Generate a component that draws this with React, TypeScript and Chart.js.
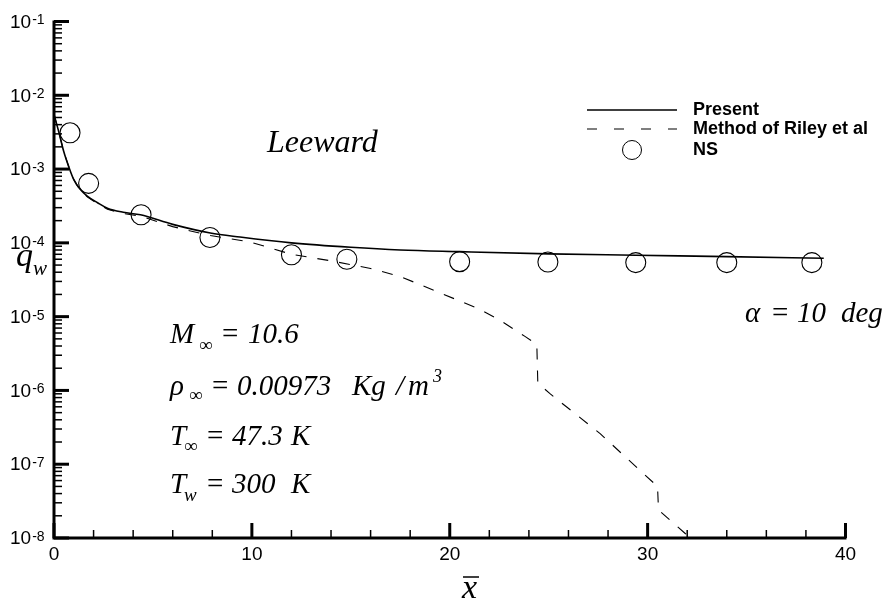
import React, { useEffect, useRef } from "react";
import { Chart, registerables } from "chart.js";
Chart.register(...registerables);

// ---- data ----
const presentX = [0, 0.25, 0.5, 0.76, 1.0, 1.3, 1.68, 2.2, 2.7, 3.5, 4.37, 6, 7.9, 9.4, 12, 15, 17.5, 20.5, 25, 29.4, 34, 38.9];
const presentY = [5.5e-3, 3.13e-3, 1.7e-3, 1.05e-3, 7.2e-4, 5.4e-4, 4.3e-4, 3.5e-4, 2.95e-4, 2.6e-4, 2.4e-4, 1.78e-4, 1.36e-4, 1.2e-4, 1.0e-4, 8.7e-5, 8.0e-5, 7.6e-5, 7.1e-5, 6.8e-5, 6.5e-5, 6.2e-5];

const rileyX = [0, 0.25, 0.5, 0.76, 1.0, 1.3, 1.68, 2.2, 2.7, 3.5, 4.37, 6, 6.9, 7.9, 9.9, 12, 14, 16, 17.5, 19.7, 21.4, 22.5, 23.8, 24.4, 24.45, 25.05, 27.6, 29.6, 30.5, 30.55, 31.9, 32.3];
const rileyY = [5.5e-3, 3.13e-3, 1.7e-3, 1.05e-3, 7.2e-4, 5.3e-4, 4.2e-4, 3.4e-4, 2.85e-4, 2.5e-4, 2.3e-4, 1.66e-4, 1.45e-4, 1.26e-4, 1.03e-4, 7.0e-5, 5.7e-5, 4.5e-5, 3.5e-5, 2.0e-5, 1.3e-5, 9.1e-6, 5.4e-6, 4.2e-6, 1.26e-6, 9.1e-7, 2.6e-7, 8.3e-8, 5.0e-8, 2.4e-8, 1.15e-8, 9e-9];

const nsX = [0.81, 1.75, 4.4, 7.88, 12.0, 14.8, 20.5, 24.96, 29.4, 34.0, 38.3];
const nsY = [3.1e-3, 6.4e-4, 2.4e-4, 1.18e-4, 6.9e-5, 6.0e-5, 5.56e-5, 5.5e-5, 5.4e-5, 5.4e-5, 5.4e-5];

const xMajorTicks = [0, 10, 20, 30, 40];
const xMinorTicks = [2, 4, 6, 8, 12, 14, 16, 18, 22, 24, 26, 28, 32, 34, 36, 38];
const yExponents = [-8, -7, -6, -5, -4, -3, -2, -1];
const yMinorMultipliers = [2, 3, 4, 5, 6, 7, 8, 9];
const legendLabels = ["Present", "Method of Riley et al", "NS"];

const SERIF = '"Liberation Serif", "Times New Roman", serif';
const SANS = '"Liberation Sans", Arial, sans-serif';

type Piece = { t: string; x: number; size: number; italic?: boolean; dy?: number };

function drawPieces(ctx: CanvasRenderingContext2D, y: number, pieces: Piece[]) {
  ctx.textAlign = "left";
  ctx.textBaseline = "alphabetic";
  for (const p of pieces) {
    ctx.font = `${p.italic ? "italic " : ""}${p.size}px ${SERIF}`;
    ctx.fillText(p.t, p.x, y + (p.dy || 0));
  }
}

const overlay = {
  id: "overlay",
  afterDraw(chart: any) {
    const ctx: CanvasRenderingContext2D = chart.ctx;
    const xs = chart.scales.x;
    const ys = chart.scales.y;
    const area = chart.chartArea;
    ctx.save();
    ctx.fillStyle = "#000";
    ctx.strokeStyle = "#000";

    // axes lines
    ctx.lineWidth = 3;
    ctx.beginPath();
    ctx.moveTo(area.left, area.top - 1);
    ctx.lineTo(area.left, area.bottom);
    ctx.lineTo(area.right + 1, area.bottom);
    ctx.stroke();

    // y ticks
    for (const e of yExponents) {
      const py = ys.getPixelForValue(Math.pow(10, e));
      ctx.lineWidth = 3;
      ctx.beginPath();
      ctx.moveTo(area.left, py);
      ctx.lineTo(area.left + 15, py);
      ctx.stroke();
      if (e < -1) {
        for (const m of yMinorMultipliers) {
          const my = ys.getPixelForValue(m * Math.pow(10, e));
          ctx.lineWidth = 1.5;
          ctx.beginPath();
          ctx.moveTo(area.left, my);
          ctx.lineTo(area.left + 8, my);
          ctx.stroke();
        }
      }
      ctx.font = `19px ${SANS}`;
      ctx.textAlign = "left";
      ctx.textBaseline = "middle";
      ctx.fillText("10", 10, py + 1);
      const w = ctx.measureText("10").width;
      ctx.font = `14px ${SANS}`;
      ctx.textBaseline = "top";
      ctx.fillText(String(e), 10 + w + 1, py - 8);
    }

    // x ticks
    for (const v of xMajorTicks) {
      const px = xs.getPixelForValue(v);
      ctx.lineWidth = 3;
      ctx.beginPath();
      ctx.moveTo(px, area.bottom);
      ctx.lineTo(px, area.bottom - 15);
      ctx.stroke();
      ctx.font = `19px ${SANS}`;
      ctx.textAlign = "center";
      ctx.textBaseline = "top";
      ctx.fillText(String(v), px, area.bottom + 7);
    }
    for (const v of xMinorTicks) {
      const px = xs.getPixelForValue(v);
      ctx.lineWidth = 1.5;
      ctx.beginPath();
      ctx.moveTo(px, area.bottom);
      ctx.lineTo(px, area.bottom - 8);
      ctx.stroke();
    }

    // axis titles
    ctx.font = `italic 34px ${SERIF}`;
    ctx.textAlign = "left";
    ctx.textBaseline = "alphabetic";
    ctx.fillText("q", 16, 266);
    ctx.font = `italic 21px ${SERIF}`;
    ctx.fillText("w", 33, 275);

    ctx.font = `italic 34px ${SERIF}`;
    ctx.fillText("x", 462, 598);
    ctx.lineWidth = 1.5;
    ctx.beginPath();
    ctx.moveTo(463, 577);
    ctx.lineTo(479, 577);
    ctx.stroke();

    // legend
    const lx0 = 587, lx1 = 677, tx = 693;
    const rows = [110, 129, 150];
    ctx.font = `bold 18px ${SANS}`;
    ctx.textBaseline = "middle";
    ctx.textAlign = "left";
    legendLabels.forEach((lab, i) => ctx.fillText(lab, tx, rows[i]));
    ctx.lineWidth = 1.5;
    ctx.setLineDash([]);
    ctx.beginPath();
    ctx.moveTo(lx0, rows[0]);
    ctx.lineTo(lx1, rows[0]);
    ctx.stroke();
    ctx.lineWidth = 1.2;
    ctx.setLineDash([10, 17]);
    ctx.beginPath();
    ctx.moveTo(lx0, rows[1]);
    ctx.lineTo(lx1, rows[1]);
    ctx.stroke();
    ctx.setLineDash([]);
    ctx.lineWidth = 1;
    ctx.beginPath();
    ctx.arc((lx0 + lx1) / 2, rows[2], 9.5, 0, Math.PI * 2);
    ctx.stroke();

    // annotations
    drawPieces(ctx, 152, [{ t: "Leeward", x: 267, size: 32, italic: true }]);
    drawPieces(ctx, 343, [
      { t: "M", x: 170, size: 29, italic: true },
      { t: "\u221E", x: 199, size: 19, dy: 8 },
      { t: "=", x: 222, size: 29 },
      { t: "10.6", x: 248, size: 29, italic: true },
    ]);
    drawPieces(ctx, 395, [
      { t: "\u03C1", x: 170, size: 29, italic: true },
      { t: "\u221E", x: 189, size: 19, dy: 6 },
      { t: "=", x: 212, size: 29 },
      { t: "0.00973", x: 237, size: 29, italic: true },
      { t: "Kg", x: 352, size: 29, italic: true },
      { t: "/", x: 396, size: 29, italic: true },
      { t: "m", x: 408, size: 29, italic: true },
      { t: "3", x: 433, size: 18, italic: true, dy: -13 },
    ]);
    drawPieces(ctx, 445, [
      { t: "T", x: 170, size: 29, italic: true },
      { t: "\u221E", x: 184, size: 19, dy: 7 },
      { t: "=", x: 207, size: 29 },
      { t: "47.3", x: 232, size: 29, italic: true },
      { t: "K", x: 291, size: 29, italic: true },
    ]);
    drawPieces(ctx, 493, [
      { t: "T", x: 170, size: 29, italic: true },
      { t: "w", x: 184, size: 19, italic: true, dy: 8 },
      { t: "=", x: 207, size: 29 },
      { t: "300", x: 232, size: 29, italic: true },
      { t: "K", x: 291, size: 29, italic: true },
    ]);
    drawPieces(ctx, 322, [
      { t: "\u03B1", x: 745, size: 29, italic: true },
      { t: "=", x: 772, size: 29 },
      { t: "10", x: 797, size: 29, italic: true },
      { t: "deg", x: 841, size: 29, italic: true },
    ]);
    ctx.restore();
  },
};

export default function App() {
  const ref = useRef<HTMLCanvasElement | null>(null);
  useEffect(() => {
    document.body.style.margin = "0";
    const canvas = ref.current!;
    const chart = new Chart(canvas, {
      type: "line",
      data: {
        datasets: [
          {
            label: "Present",
            data: presentX.map((x, i) => ({ x, y: presentY[i] })),
            borderColor: "#000",
            borderWidth: 1.6,
            pointRadius: 0,
            cubicInterpolationMode: "monotone",
            fill: false,
          },
          {
            label: "Method of Riley et al",
            data: rileyX.map((x, i) => ({ x, y: rileyY[i] })),
            borderColor: "#000",
            borderWidth: 1.1,
            borderDash: [11, 11],
            pointRadius: 0,
            tension: 0,
            fill: false,
          },
          {
            label: "NS",
            data: nsX.map((x, i) => ({ x, y: nsY[i] })),
            showLine: false,
            borderColor: "#000",
            backgroundColor: "rgba(0,0,0,0)",
            borderWidth: 1.1,
            pointRadius: 10,
            pointStyle: "circle",
          },
        ],
      },
      options: {
        animation: false,
        responsive: false,
        devicePixelRatio: 1,
        layout: { padding: { left: 54, right: 47.5, top: 21.5, bottom: 72 } },
        plugins: { legend: { display: false }, tooltip: { enabled: false } },
        scales: {
          x: { type: "linear", min: 0, max: 40, display: false },
          y: { type: "logarithmic", min: 1e-8, max: 1e-1, display: false },
        },
      },
      plugins: [overlay],
    } as any);
    return () => chart.destroy();
  }, []);
  return <canvas ref={ref} width={893} height={610} style={{ display: "block" }} />;
}
